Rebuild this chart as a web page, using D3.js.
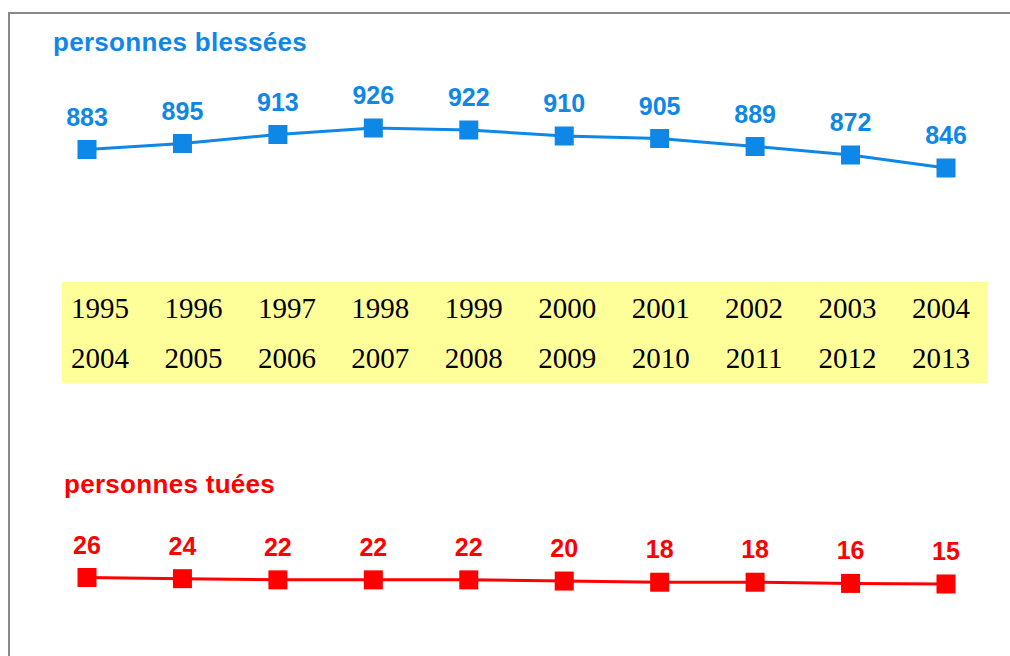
<!DOCTYPE html>
<html>
<head>
<meta charset="utf-8">
<script src="https://cdn.jsdelivr.net/npm/d3@7"></script>
<style>
	body { margin: 0; background: #fff; }
</style>
</head>
<body>
<svg id="svg1" width="1010" height="656"></svg>
<script>
// data
var periodStart = ["1995", "1996", "1997", "1998", "1999", "2000", "2001", "2002", "2003", "2004"];
var periodEnd = ["2004", "2005", "2006", "2007", "2008", "2009", "2010", "2011", "2012", "2013"];
var blesses = [883, 895, 913, 926, 922, 910, 905, 889, 872, 846];
var tues = [26, 24, 22, 22, 22, 20, 18, 18, 16, 15];
var titleBlesses = "personnes blessées";
var titleTues = "personnes tuées";

var svg1 = d3.select("#svg1");

var blue = "#0f87e6",
	red = "#ff0000";

// frame (top and left only)
svg1.append("line")
	.attr("x1", 9).attr("x2", 1010)
	.attr("y1", 13).attr("y2", 13)
	.attr("stroke", "#888").attr("stroke-width", 2);
svg1.append("line")
	.attr("x1", 9).attr("x2", 9)
	.attr("y1", 12).attr("y2", 656)
	.attr("stroke", "#888").attr("stroke-width", 2);

// The scale placing each period along the x axis:
var x = d3.scalePoint()
	.domain(d3.range(periodStart.length))
	.range([87, 946]);

// years sit in the yellow band, a bit off the points
var xYear = d3.scalePoint()
	.domain(d3.range(periodStart.length))
	.range([100, 941]);

var yB = d3.scaleLinear()
	.domain(d3.extent(blesses))
	.range([168, 128]);

var yT = d3.scaleLinear()
	.domain(d3.extent(tues))
	.range([584, 577.5]);

function drawSeries(values, y, color, title, titleX, titleY) {
	var g = svg1.append("g");

	g.append("text")
		.attr("x", titleX)
		.attr("y", titleY)
		.attr("fill", color)
		.attr("font-family", "Liberation Sans, Arial, sans-serif")
		.attr("font-weight", "bold")
		.attr("font-size", 26)
		.attr("letter-spacing", 0.3)
		.text(title);

	var line = d3.line()
		.x(function(d, i) { return x(i); })
		.y(function(d) { return y(d); });

	g.append("path")
		.datum(values)
		.attr("fill", "none")
		.attr("stroke", color)
		.attr("stroke-width", 3)
		.attr("d", line);

	g.selectAll("rect")
		.data(values)
		.enter().append("rect")
		.attr("x", function(d, i) { return x(i) - 9.5; })
		.attr("y", function(d) { return y(d) - 9.5; })
		.attr("width", 19)
		.attr("height", 19)
		.attr("fill", color);

	g.selectAll(".lbl")
		.data(values)
		.enter().append("text")
		.attr("class", "lbl")
		.attr("x", function(d, i) { return x(i); })
		.attr("y", function(d) { return y(d) - 24; })
		.attr("text-anchor", "middle")
		.attr("fill", color)
		.attr("font-family", "Liberation Sans, Arial, sans-serif")
		.attr("font-weight", "bold")
		.attr("font-size", 25)
		.text(function(d) { return d; });
}

drawSeries(blesses, yB, blue, titleBlesses, 53, 51);
drawSeries(tues, yT, red, titleTues, 64, 493);

// yellow band with the two rows of years
var band = svg1.append("g");

band.append("rect")
	.attr("x", 62)
	.attr("y", 282)
	.attr("width", 926)
	.attr("height", 101)
	.attr("fill", "#ffff99");

band.selectAll(".y1")
	.data(periodStart)
	.enter().append("text")
	.attr("class", "y1")
	.attr("x", function(d, i) { return xYear(i); })
	.attr("y", 318)
	.attr("text-anchor", "middle")
	.attr("font-family", "Liberation Serif, Times New Roman, serif")
	.attr("font-size", 29)
	.attr("fill", "#000")
	.text(function(d) { return d; });

band.selectAll(".y2")
	.data(periodEnd)
	.enter().append("text")
	.attr("class", "y2")
	.attr("x", function(d, i) { return xYear(i); })
	.attr("y", 368)
	.attr("text-anchor", "middle")
	.attr("font-family", "Liberation Serif, Times New Roman, serif")
	.attr("font-size", 29)
	.attr("fill", "#000")
	.text(function(d) { return d; });
</script>
</body>
</html>
